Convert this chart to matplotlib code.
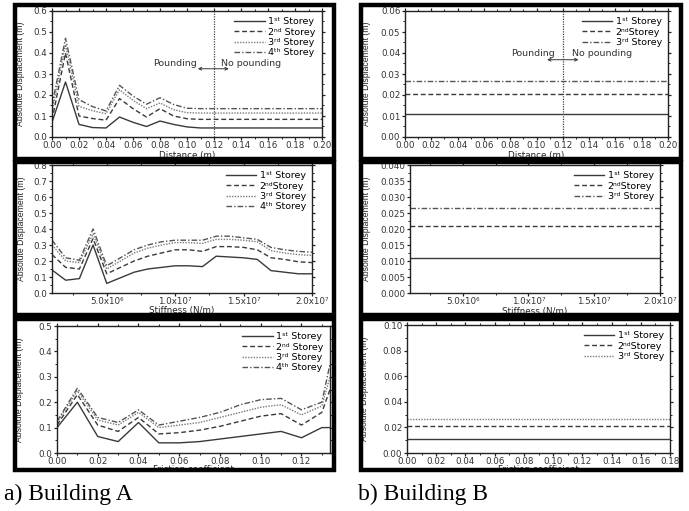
import matplotlib
matplotlib.use("Agg")
import matplotlib.pyplot as plt
from matplotlib.patches import Rectangle
from matplotlib.ticker import AutoMinorLocator, MultipleLocator, FixedLocator, FixedFormatter

plt.rcParams['font.family'] = ['DejaVu Sans']
plt.rcParams['mathtext.default'] = 'regular'

YLAB_FONT = dict(family=['Liberation Sans', 'DejaVu Sans'], fontsize=6.2)

# ---------------- data ----------------
dist_x = [0.00, 0.01, 0.02, 0.03, 0.04, 0.05, 0.06, 0.07, 0.08, 0.09, 0.10, 0.11, 0.12, 0.14, 0.16, 0.18, 0.20]
distA_s1 = [0.07, 0.262, 0.06, 0.045, 0.043, 0.095, 0.07, 0.05, 0.076, 0.06, 0.048, 0.043, 0.043, 0.043, 0.043, 0.043, 0.043]
distA_s2 = [0.08, 0.40, 0.10, 0.088, 0.08, 0.183, 0.135, 0.095, 0.135, 0.10, 0.087, 0.084, 0.084, 0.084, 0.084, 0.084, 0.084]
distA_s3 = [0.12, 0.44, 0.146, 0.125, 0.111, 0.225, 0.175, 0.135, 0.162, 0.13, 0.116, 0.114, 0.114, 0.114, 0.114, 0.114, 0.114]
distA_s4 = [0.15, 0.47, 0.178, 0.145, 0.124, 0.246, 0.195, 0.156, 0.187, 0.155, 0.137, 0.135, 0.135, 0.135, 0.135, 0.135, 0.135]

distB_x = [0.00, 0.20]
distB_s1 = [0.0108, 0.0108]
distB_s2 = [0.0206, 0.0206]
distB_s3 = [0.0265, 0.0265]

stiff_x = [1e6, 2e6, 3e6, 4e6, 5e6, 6e6, 7e6, 8e6, 9e6, 1.0e7, 1.1e7, 1.2e7, 1.3e7, 1.4e7, 1.5e7, 1.6e7, 1.7e7, 1.8e7, 1.9e7, 2.0e7]
stiffA_s1 = [0.144, 0.08, 0.09, 0.30, 0.06, 0.095, 0.13, 0.15, 0.16, 0.17, 0.17, 0.165, 0.23, 0.225, 0.22, 0.21, 0.14, 0.13, 0.12, 0.12]
stiffA_s2 = [0.24, 0.16, 0.15, 0.34, 0.12, 0.16, 0.20, 0.23, 0.25, 0.27, 0.27, 0.26, 0.29, 0.29, 0.285, 0.27, 0.22, 0.21, 0.195, 0.19]
stiffA_s3 = [0.30, 0.20, 0.19, 0.37, 0.15, 0.20, 0.25, 0.28, 0.30, 0.315, 0.315, 0.31, 0.335, 0.335, 0.33, 0.32, 0.265, 0.25, 0.24, 0.235]
stiffA_s4 = [0.33, 0.22, 0.205, 0.40, 0.17, 0.22, 0.27, 0.30, 0.32, 0.33, 0.33, 0.33, 0.355, 0.355, 0.345, 0.335, 0.285, 0.27, 0.26, 0.255]

stiffB_x = [1e6, 2e7]
stiffB_s1 = [0.011, 0.011]
stiffB_s2 = [0.021, 0.021]
stiffB_s3 = [0.0265, 0.0265]
stiff_ticks = [5e6, 1e7, 1.5e7, 2e7]
stiff_labels = ['5.0x10⁶', '1.0x10⁷', '1.5x10⁷', '2.0x10⁷']

fric_x = [0.00, 0.01, 0.02, 0.03, 0.04, 0.05, 0.06, 0.07, 0.08, 0.09, 0.10, 0.11, 0.12, 0.13, 0.134]
fricA_s1 = [0.10, 0.20, 0.065, 0.045, 0.12, 0.04, 0.04, 0.045, 0.055, 0.065, 0.075, 0.085, 0.06, 0.10, 0.10]
fricA_s2 = [0.11, 0.23, 0.11, 0.085, 0.14, 0.075, 0.08, 0.09, 0.105, 0.125, 0.145, 0.155, 0.11, 0.16, 0.25]
fricA_s3 = [0.12, 0.245, 0.13, 0.11, 0.16, 0.10, 0.11, 0.12, 0.14, 0.16, 0.18, 0.19, 0.15, 0.185, 0.30]
fricA_s4 = [0.125, 0.255, 0.14, 0.12, 0.17, 0.11, 0.125, 0.14, 0.16, 0.19, 0.21, 0.215, 0.17, 0.20, 0.35]

fricB_x = [0.00, 0.18]
fricB_s1 = [0.011, 0.011]
fricB_s2 = [0.021, 0.021]
fricB_s3 = [0.0265, 0.0265]

L1 = '1ˢᵗ Storey'
L2 = '2ⁿᵈ Storey'
L2b = '2ⁿᵈStorey'
L3 = '3ʳᵈ Storey'
L4 = '4ᵗʰ Storey'

# ---------------- styles ----------------
S1 = dict(color='#3a3a3a', lw=1.0, ls='-')
S2 = dict(color='#3a3a3a', lw=1.0, ls=(0, (3.5, 2.0)))
S3 = dict(color='#7a7a7a', lw=1.0, ls=(0, (1.0, 1.0)))
S4 = dict(color='#555555', lw=1.0, ls=(0, (4, 1.5, 1, 1.5)))

W, H = 689, 511
fig = plt.figure(figsize=(W / 100, H / 100), dpi=100)


def axes_px(x0, y0, x1, y1):
    return fig.add_axes([x0 / W, 1 - y1 / H, (x1 - x0) / W, (y1 - y0) / H])


def style(ax, ylab_x, xlab_y, xlabel):
    for s in ax.spines.values():
        s.set_linewidth(1.0)
        s.set_color('#222222')
    ax.tick_params(which='both', direction='out', top=True, right=True,
                   labelsize=6.3, colors='#222222')
    ax.tick_params(axis='x', which='both', pad=0.6)
    ax.tick_params(axis='y', which='both', pad=1.2)
    ax.tick_params(which='major', length=2.2, width=0.9)
    ax.tick_params(which='minor', length=1.3, width=0.7)
    ax.set_ylabel('Absolute Displacement (m)', color='#222222', **YLAB_FONT)
    ax.yaxis.set_label_coords(ylab_x, 0.5)
    ax.set_xlabel(xlabel, fontsize=6.3, color='#222222')
    ax.xaxis.set_label_coords(0.5, xlab_y)
    for lab in ax.get_xticklabels() + ax.get_yticklabels():
        lab.set_color('#333333')


def legend(ax):
    ax.legend(loc='upper right', frameon=False, fontsize=6.8, handlelength=3.2,
              handletextpad=0.4, labelspacing=0.15, borderaxespad=0.25)


# ---- Top left: distance, building A
ax = axes_px(52, 11, 322, 137)
ax.plot(dist_x, distA_s1, label=L1, **S1)
ax.plot(dist_x, distA_s2, label=L2, **S2)
ax.plot(dist_x, distA_s3, label=L3, **S3)
ax.plot(dist_x, distA_s4, label=L4, **S4)
ax.axvline(0.12, color='#444444', lw=0.9, ls=(0, (1, 1)))
ax.set_xlim(0, 0.20)
ax.set_ylim(0, 0.6)
ax.xaxis.set_major_locator(MultipleLocator(0.02))
ax.xaxis.set_major_formatter(plt.FormatStrFormatter('%.2f'))
ax.xaxis.set_minor_locator(AutoMinorLocator(2))
ax.yaxis.set_major_locator(MultipleLocator(0.1))
ax.yaxis.set_major_formatter(plt.FormatStrFormatter('%.1f'))
ax.yaxis.set_minor_locator(AutoMinorLocator(2))
ax.text(0.107, 0.35, 'Pounding', ha='right', va='center', fontsize=6.8, color='#333333')
ax.text(0.125, 0.35, 'No pounding', ha='left', va='center', fontsize=6.8, color='#333333')
ax.annotate('', xy=(0.106, 0.325), xytext=(0.133, 0.325),
            arrowprops=dict(arrowstyle='<->', lw=0.7, color='#333333', mutation_scale=5))
legend(ax)
style(ax, -0.10, -0.11, 'Distance (m)')

# ---- Top right: distance, building B
ax = axes_px(405, 11, 668, 137)
ax.plot(distB_x, distB_s1, label=L1, **S1)
ax.plot(distB_x, distB_s2, label=L2b, **S2)
ax.plot(distB_x, distB_s3, label=L3, **S4)
ax.axvline(0.12, color='#444444', lw=0.9, ls=(0, (1, 1)))
ax.set_xlim(0, 0.20)
ax.set_ylim(0, 0.06)
ax.xaxis.set_major_locator(MultipleLocator(0.02))
ax.xaxis.set_major_formatter(plt.FormatStrFormatter('%.2f'))
ax.xaxis.set_minor_locator(AutoMinorLocator(2))
ax.yaxis.set_major_locator(MultipleLocator(0.01))
ax.yaxis.set_major_formatter(plt.FormatStrFormatter('%.2f'))
ax.yaxis.set_minor_locator(AutoMinorLocator(2))
ax.text(0.114, 0.040, 'Pounding', ha='right', va='center', fontsize=6.8, color='#333333')
ax.text(0.127, 0.040, 'No pounding', ha='left', va='center', fontsize=6.8, color='#333333')
ax.annotate('', xy=(0.106, 0.0368), xytext=(0.134, 0.0368),
            arrowprops=dict(arrowstyle='<->', lw=0.7, color='#333333', mutation_scale=5))
legend(ax)
style(ax, -0.129, -0.11, 'Distance (m)')

# ---- Middle left: stiffness, building A
ax = axes_px(52, 165, 312, 293)
ax.plot(stiff_x, stiffA_s1, label=L1, **S1)
ax.plot(stiff_x, stiffA_s2, label=L2b, **S2)
ax.plot(stiff_x, stiffA_s3, label=L3, **S3)
ax.plot(stiff_x, stiffA_s4, label=L4, **S4)
ax.set_xlim(1e6, 2e7)
ax.set_ylim(0, 0.8)
ax.xaxis.set_major_locator(FixedLocator(stiff_ticks))
ax.xaxis.set_major_formatter(FixedFormatter(stiff_labels))
ax.xaxis.set_minor_locator(MultipleLocator(2.5e6))
ax.yaxis.set_major_locator(MultipleLocator(0.1))
ax.yaxis.set_major_formatter(plt.FormatStrFormatter('%.1f'))
ax.yaxis.set_minor_locator(AutoMinorLocator(2))
legend(ax)
style(ax, -0.10, -0.10, 'Stiffness (N/m)')

# ---- Middle right: stiffness, building B
ax = axes_px(410, 165, 660, 293)
ax.plot(stiffB_x, stiffB_s1, label=L1, **S1)
ax.plot(stiffB_x, stiffB_s2, label=L2b, **S2)
ax.plot(stiffB_x, stiffB_s3, label=L3, **S4)
ax.set_xlim(1e6, 2e7)
ax.set_ylim(0, 0.040)
ax.xaxis.set_major_locator(FixedLocator(stiff_ticks))
ax.xaxis.set_major_formatter(FixedFormatter(stiff_labels))
ax.xaxis.set_minor_locator(MultipleLocator(2.5e6))
ax.yaxis.set_major_locator(MultipleLocator(0.005))
ax.yaxis.set_major_formatter(plt.FormatStrFormatter('%.3f'))
ax.yaxis.set_minor_locator(AutoMinorLocator(2))
legend(ax)
style(ax, -0.156, -0.11, 'Stiffness (N/m)')

# ---- Bottom left: friction, building A
ax = axes_px(57, 326, 330, 453)
ax.plot(fric_x, fricA_s1, label=L1, **S1)
ax.plot(fric_x, fricA_s2, label=L2, **S2)
ax.plot(fric_x, fricA_s3, label=L3, **S3)
ax.plot(fric_x, fricA_s4, label=L4, **S4)
ax.set_xlim(0, 0.134)
ax.set_ylim(0, 0.5)
ax.xaxis.set_major_locator(MultipleLocator(0.02))
ax.xaxis.set_major_formatter(plt.FormatStrFormatter('%.2f'))
ax.xaxis.set_minor_locator(AutoMinorLocator(2))
ax.yaxis.set_major_locator(MultipleLocator(0.1))
ax.yaxis.set_major_formatter(plt.FormatStrFormatter('%.1f'))
ax.yaxis.set_minor_locator(AutoMinorLocator(2))
legend(ax)
style(ax, -0.121, -0.095, 'Friction coefficient')

# ---- Bottom right: friction, building B
ax = axes_px(407, 325, 670, 453)
ax.plot(fricB_x, fricB_s1, label=L1, **S1)
ax.plot(fricB_x, fricB_s2, label=L2b, **S2)
ax.plot(fricB_x, fricB_s3, label=L3, **S3)
ax.set_xlim(0, 0.18)
ax.set_ylim(0, 0.10)
ax.xaxis.set_major_locator(MultipleLocator(0.02))
ax.xaxis.set_major_formatter(plt.FormatStrFormatter('%.2f'))
ax.xaxis.set_minor_locator(AutoMinorLocator(2))
ax.yaxis.set_major_locator(MultipleLocator(0.02))
ax.yaxis.set_major_formatter(plt.FormatStrFormatter('%.2f'))
ax.yaxis.set_minor_locator(AutoMinorLocator(2))
legend(ax)
style(ax, -0.144, -0.095, 'Friction coefficient')

# ---------------- panel frames ----------------
def frame(x0, y0, x1, y1):
    fig.patches.append(Rectangle((x0 / W, 1 - y1 / H), (x1 - x0) / W, (y1 - y0) / H,
                                 transform=fig.transFigure, fill=False, lw=3.2,
                                 edgecolor='black', zorder=10))

frame(15, 5, 334, 159)
frame(361, 5, 681, 159)
frame(15, 162, 334, 315)
frame(361, 162, 681, 315)
frame(15, 319, 334, 470)
frame(361, 319, 681, 470)

fig.text(4 / W, 1 - 500 / H, 'a) Building A', fontsize=17, family='Liberation Serif',
         ha='left', va='baseline')
fig.text(358 / W, 1 - 500 / H, 'b) Building B', fontsize=17, family='Liberation Serif',
         ha='left', va='baseline')

fig.savefig('out.png', dpi=100)
